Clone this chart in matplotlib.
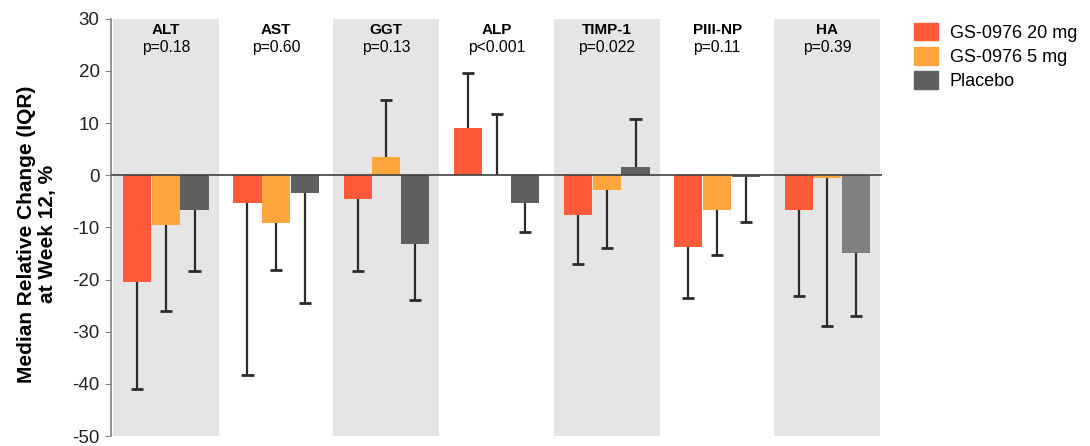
import numpy as np
import matplotlib.pyplot as plt
from matplotlib.patches import Patch

plt.rcParams["font.family"] = ["Liberation Sans", "DejaVu Sans"]
plt.rcParams["axes.unicode_minus"] = False

# data
markers = ["ALT", "AST", "GGT", "ALP", "TIMP-1", "PIII-NP", "HA"]
pvalues = ["p=0.18", "p=0.60", "p=0.13", "p<0.001", "p=0.022", "p=0.11", "p=0.39"]
series = ["GS-0976 20 mg", "GS-0976 5 mg", "Placebo"]
# medians
med_20mg = [-20.4, -5.4, -4.5, 9.1, -7.7, -13.7, -6.7]
med_5mg = [-9.6, -9.1, 3.5, 0.0, -2.8, -6.7, -0.6]
med_pbo = [-6.6, -3.4, -13.1, -5.4, 1.5, -0.3, -15.0]
# outer IQR bound (whisker end)
iqr_20mg = [-41.0, -38.3, -18.4, 19.6, -17.0, -23.6, -23.1]
iqr_5mg = [-26.0, -18.1, 14.5, 11.7, -13.9, -15.3, -29.0]
iqr_pbo = [-18.4, -24.5, -24.0, -10.9, 10.8, -9.0, -27.0]

c_red = "#ff5a3a"
c_orange = "#ffa53d"
c_gray = "#606060"
pbo_colors = [c_gray] * 6 + ["#808080"]

fig = plt.figure(figsize=(10.9, 4.46), dpi=100)
ax = fig.add_axes([0.1016, 0.0224, 0.708, 0.9356])

x = np.arange(len(markers))
w = 0.255
off = 0.26

# shaded bands for every other group
for i in range(0, len(markers), 2):
    ax.axvspan(i - 0.48, i + 0.48, color="#e5e5e5", zorder=0, lw=0)

groups = [(-off, med_20mg, iqr_20mg, c_red),
          (0.0, med_5mg, iqr_5mg, c_orange),
          (off, med_pbo, iqr_pbo, pbo_colors)]
for dx, med, iqr, col in groups:
    xs = x + dx
    ax.bar(xs, med, w, color=col, zorder=2)
    # one-sided whisker from bar end to the IQR bound
    ax.vlines(xs, med, iqr, color="#2b2b2b", lw=1.6, zorder=3)
    ax.hlines(iqr, xs - 0.055, xs + 0.055, color="#2b2b2b", lw=2, zorder=3)

ax.axhline(0, color="#404040", lw=1.2, zorder=4)

for i, (m, p) in enumerate(zip(markers, pvalues)):
    ax.text(i, 27.8, m, ha="center", va="center", fontsize=11, fontweight="bold")
    ax.text(i, 24.4, p, ha="center", va="center", fontsize=11.3)

ax.set_xlim(-0.5, 6.5)
ax.set_ylim(-50, 30)
ax.set_yticks(range(-50, 31, 10))
ax.set_xticks([])
ax.tick_params(axis="y", labelsize=13.5, direction="out", length=4,
               pad=4, color="#808080", labelcolor="#222222")
for s in ["top", "right", "bottom"]:
    ax.spines[s].set_visible(False)
ax.spines["left"].set_color("#808080")
ax.spines["left"].set_linewidth(1.2)
fig.text(0.034, 0.475, "Median Relative Change (IQR)\nat Week 12, %",
         rotation=90, ha="center", va="center", multialignment="center",
         fontsize=15, fontweight="bold", linespacing=1.1)

handles = [Patch(color=c_red), Patch(color=c_orange), Patch(color=c_gray)]
fig.legend(handles, series, loc="upper left", bbox_to_anchor=(914 / 1090, 1 - 23 / 446),
           frameon=False, fontsize=13, handlelength=1.33, handleheight=1.1,
           handletextpad=0.66, labelspacing=0.3, borderpad=0, borderaxespad=0)

fig.savefig("out.png", dpi=100)
